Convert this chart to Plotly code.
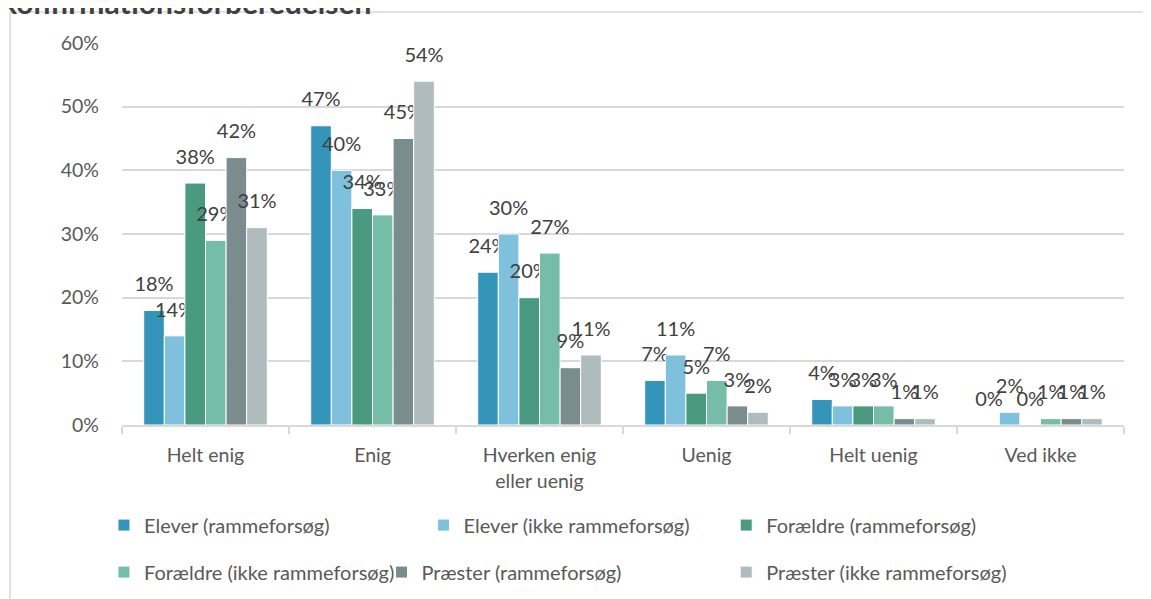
import plotly.graph_objects as go

categories = ["Helt enig", "Enig", "Hverken enig<br>eller uenig", "Uenig", "Helt uenig", "Ved ikke"]

series_names = [
    "Elever (rammeforsøg)",
    "Elever (ikke rammeforsøg)",
    "Forældre (rammeforsøg)",
    "Forældre (ikke rammeforsøg)",
    "Præster (rammeforsøg)",
    "Præster (ikke rammeforsøg)",
]

elever_rf = [0.18, 0.47, 0.24, 0.07, 0.04, 0.00]
elever_ikke = [0.14, 0.40, 0.30, 0.11, 0.03, 0.02]
foraeldre_rf = [0.38, 0.34, 0.20, 0.05, 0.03, 0.00]
foraeldre_ikke = [0.29, 0.33, 0.27, 0.07, 0.03, 0.01]
praester_rf = [0.42, 0.45, 0.09, 0.03, 0.01, 0.01]
praester_ikke = [0.31, 0.54, 0.11, 0.02, 0.01, 0.01]

colors = ["#3494BA", "#7FC1DD", "#4A9A7F", "#75BDA7", "#7A8C8E", "#AFBBBC"]

all_values = [elever_rf, elever_ikke, foraeldre_rf, foraeldre_ikke, praester_rf, praester_ikke]

font = "Lato, Open Sans, sans-serif"

# one legend per entry, so the two legend rows sit like Excel's
legend_ids = ["legend", "legend2", "legend3", "legend4", "legend5", "legend6"]
legend_pos = [(-0.018, -0.262), (0.301, -0.262), (0.603, -0.262),
              (-0.018, -0.385), (0.259, -0.385), (0.603, -0.385)]

fig = go.Figure()
for name, vals, col, lg in zip(series_names, all_values, colors, legend_ids):
    fig.add_trace(go.Bar(
        x=categories, y=vals, name=name, legend=lg,
        marker=dict(color=col, line=dict(color="white", width=1)),
        # small trailing line lifts the label a bit above the bar, like Excel
        text=[f"<span style='font-size:20px'>{v:.0%}</span><br> " for v in vals],
        textposition="outside",
        constraintext="none",
        cliponaxis=False,
        textfont=dict(size=11, color="#404040", family=font),
    ))

# frame of the chart box (top and left edges visible)
fig.add_shape(type="line", xref="paper", yref="paper",
              x0=-0.1118, x1=1.1, y0=1.081, y1=1.081,
              line=dict(color="#D9D9D9", width=1.5))
fig.add_shape(type="line", xref="paper", yref="paper",
              x0=-0.1118, x1=-0.1118, y0=1.081, y1=-0.6,
              line=dict(color="#D9D9D9", width=1.5))

fig.add_annotation(text="<b>konfirmationsforberedelsen</b>", xref="paper", yref="paper",
                   x=-0.123, y=1.055, xanchor="left", yanchor="bottom", showarrow=False,
                   font=dict(size=30, color="#404040", family=font))

legends = {}
for lg, (lx, ly) in zip(legend_ids, legend_pos):
    legends[lg] = dict(orientation="h", x=lx, y=ly, xanchor="left", yanchor="middle",
                       itemwidth=30, bgcolor="rgba(0,0,0,0)",
                       font=dict(size=20, color="#595959", family=font))

# page body adds an 8px offset, so the figure is 8px smaller
fig.update_layout(
    width=1143, height=591,
    margin=dict(l=114, r=27, t=35, b=174, autoexpand=False),
    paper_bgcolor="white", plot_bgcolor="white",
    barmode="group", bargap=0.26, bargroupgap=0,
    font=dict(family=font, size=19.5, color="#595959"),
    showlegend=True,
    **legends,
)
fig.update_yaxes(range=[0, 0.6], dtick=0.1, tickformat=".0%", showgrid=True,
                 gridcolor="#D9D9D9", gridwidth=1.5, zeroline=False, showline=False,
                 ticklabelstandoff=22, tickfont=dict(size=19.5, color="#595959"))
fig.update_xaxes(showline=True, linecolor="#D9D9D9", linewidth=1.5, ticks="outside",
                 tickson="boundaries", ticklen=7, tickcolor="#D9D9D9", tickwidth=1.5,
                 ticklabelstandoff=12, tickfont=dict(size=19.5, color="#595959"))

fig.write_html("out.html")
